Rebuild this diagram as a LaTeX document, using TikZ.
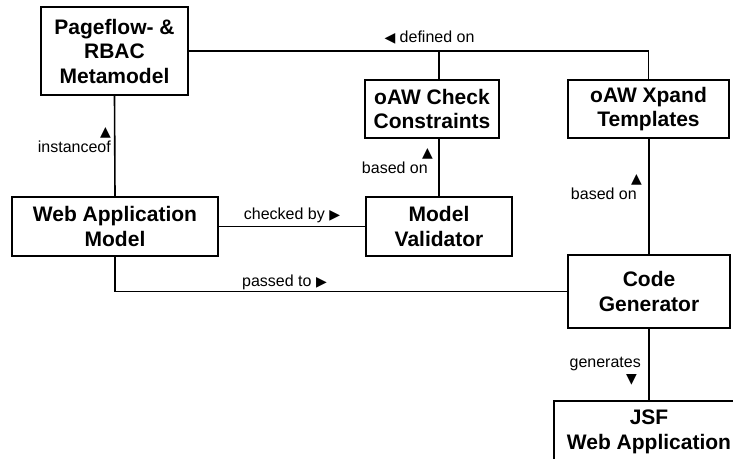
\documentclass[tikz,border=0pt]{standalone}
\usepackage{fontspec}
\setmainfont{Liberation Sans}
\newfontfamily\symfont{DejaVu Sans}
\newcommand{\arrowglyph}[1]{{\symfont\fontsize{14}{14}\selectfont #1}}
\begin{document}
\begin{tikzpicture}[x=1pt,y=-1pt,
  box/.style={draw, line width=2.4pt, inner sep=0pt, align=center,
    font=\fontsize{21}{24.5}\selectfont\bfseries},
  wire/.style={line width=1.6pt},
  lbl/.style={inner sep=0pt, font=\fontsize{16}{16}\selectfont}]
\useasboundingbox (0,0) rectangle (733,458);
\clip (0,0) rectangle (733,458);
\fill[white] (0,0) rectangle (733,458);

% components
\node[box, minimum width=147pt, minimum height=88pt] (pf)  at (114.5,51)  {Pageflow- \&\\RBAC\\Metamodel};
\node[box, minimum width=134pt, minimum height=58pt] (chk) at (432,109)   {oAW Check\\Constraints};
\node[box, minimum width=161pt, minimum height=58pt] (xp)  at (648.5,109) {oAW Xpand\\Templates};
\node[box, minimum width=206pt, minimum height=59pt] (wa)  at (115,226.5) {Web Application\\Model};
\node[box, minimum width=146pt, minimum height=59pt] (val) at (439,226.5) {Model\\Validator};
\node[box, minimum width=162pt, minimum height=73pt] (cg)  at (649,291.5) {Code\\Generator};
\node[box, minimum width=190pt, minimum height=62pt] (jsf) at (649,432)   {JSF\\Web Application};

% relations
\draw[wire] (pf.east) -| (xp.north);
\draw[wire] (val.north |- pf.east) -- (val.north |- chk.north);
\draw[wire] (chk.south -| val.north) -- (val.north);
\draw[wire] (pf.south) -- (wa.north);
\draw[wire] (wa.east) -- (val.west);
\draw[wire] (wa.south) |- (cg.west);
\draw[wire] (xp.south -| cg.north) -- (cg.north);
\draw[wire] (cg.south) -- (jsf.north);

% relation labels
\node[lbl] (ldef) at (429.5,38) {\arrowglyph{◀} defined on};
\node[lbl, align=right, anchor=east] (linst) at (111,140) {\arrowglyph{▲}\\instanceof};
\node[lbl, align=right, anchor=east] (lbase1) at (428,161) {\arrowglyph{▲}\kern-5pt\\based on};
\node[lbl] (lchk) at (292,215) {checked by \arrowglyph{▶}};
\node[lbl] (lpass) at (284.5,282) {passed to \arrowglyph{▶}};
\node[lbl, align=right, anchor=east] (lbase2) at (637,187.5) {\arrowglyph{▲}\kern-5pt\\based on};
\node[lbl, align=right, anchor=east] (lgen) at (641,371) {generates\\\arrowglyph{▼}\kern4pt};
\end{tikzpicture}
\end{document}
